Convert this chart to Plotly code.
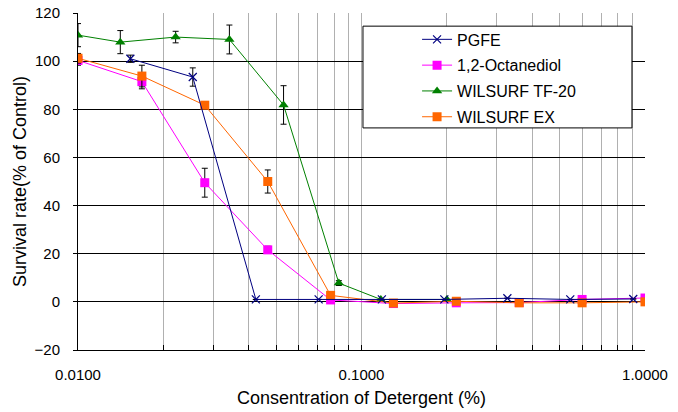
import plotly.graph_objects as go

# ---- data ----
pgfe_x = [0.0153, 0.0254, 0.0424, 0.0706, 0.118, 0.196, 0.327, 0.545, 0.909]
pgfe_y = [101, 93.4, 1, 1, 1, 1, 1.5, 1, 1.2]
pgfe_e = [1.5, 3.8, 0, 0, 0, 0, 0, 0, 0]

oct_x = [0.01, 0.0168, 0.028, 0.0467, 0.0778, 0.1296, 0.216, 0.36, 0.6, 1.0]
oct_y = [100.3, 91.5, 49.5, 21.6, 0.8, -0.7, -0.4, -0.3, 1, 1.6]
oct_e = [2, 3, 6, 1.5, 0, 0, 0, 0, 0, 0]

tf_x = [0.01, 0.0141, 0.0221, 0.0342, 0.0531, 0.0832, 0.117, 0.2]
tf_y = [110.8, 107.9, 110, 109, 81.8, 7.8, 1, 1]
tf_e = [4.8, 4.8, 2.4, 6, 8, 1, 0, 0]

ex_x = [0.01, 0.0168, 0.028, 0.0467, 0.0778, 0.1296, 0.216, 0.36, 0.6, 1.0]
ex_y = [101.2, 93.8, 81.7, 50, 2.7, -0.5, 0.25, -0.4, -0.4, 0]
ex_e = [2, 4.5, 1, 4.8, 0, 0, 0, 0, 0, 0]

x_ticks = [0.01, 0.1, 1.0]
x_tick_text = ["0.0100", "0.1000", "1.0000"]
minor_vals = [d * m for d in (0.01, 0.1) for m in range(2, 10)] + [0.1, 1.0]

FONT = "Liberation Sans"

def err(arr):
    return dict(type="data", array=arr, visible=True, color="black", thickness=1, width=3)

fig = go.Figure()
fig.add_trace(go.Scatter(x=tf_x, y=tf_y, name="WILSURF TF-20", mode="lines+markers",
                         line=dict(color="#008000", width=1),
                         marker=dict(symbol="triangle-up", size=9, color="#008000"),
                         error_y=err(tf_e), legendrank=3, legendgroup="c"))
fig.add_trace(go.Scatter(x=oct_x, y=oct_y, name="1,2-Octanediol", mode="lines+markers",
                         line=dict(color="#FF00FF", width=1),
                         marker=dict(symbol="square", size=9, color="#FF00FF"),
                         error_y=err(oct_e), legendrank=2, legendgroup="b"))
fig.add_trace(go.Scatter(x=ex_x, y=ex_y, name="WILSURF EX", mode="lines+markers",
                         line=dict(color="#FF6600", width=1),
                         marker=dict(symbol="square", size=9, color="#FF6600"),
                         error_y=err(ex_e), legendrank=4, legendgroup="d"))
fig.add_trace(go.Scatter(x=pgfe_x, y=pgfe_y, name="PGFE", mode="lines+markers",
                         line=dict(color="#000080", width=1),
                         marker=dict(symbol="x-thin", size=8, line=dict(color="#000080", width=1.2)),
                         error_y=err(pgfe_e), legendrank=1, legendgroup="a"))

# legend frame
fig.add_shape(type="rect", xref="paper", yref="paper",
              x0=0.5026, x1=0.977, y0=0.659, y1=0.961,
              line=dict(color="black", width=1), fillcolor="white", layer="above")

fig.update_layout(
    width=678, height=412,
    margin=dict(l=78, r=33, t=13, b=62),
    paper_bgcolor="white", plot_bgcolor="white",
    font=dict(family=FONT, size=15, color="black"),
    legend=dict(x=0.598, y=0.972, xanchor="left", yanchor="top",
                bgcolor="rgba(0,0,0,0)", borderwidth=0,
                font=dict(size=16), tracegroupgap=2),
    xaxis=dict(type="log", range=[-2, 0], tickvals=x_ticks, ticktext=x_tick_text,
               automargin=False,
               showline=True, linecolor="black", linewidth=1,
               showgrid=True, gridcolor="#b0b0b0", gridwidth=1,
               ticks="inside", ticklen=5, tickcolor="black",
               minor=dict(tickvals=minor_vals, showgrid=True, gridcolor="#b0b0b0",
                          ticks="inside", ticklen=5, tickcolor="black"),
               zeroline=False, ticklabelstandoff=11,
               title=dict(text="Consentration of Detergent (%)", font=dict(size=18), standoff=9),
               tickfont=dict(size=15)),
    yaxis=dict(range=[-20, 120], dtick=20, showline=True, linecolor="black", linewidth=1,
               automargin=False,
               showgrid=True, gridcolor="black", gridwidth=1, zeroline=False,
               ticks="outside", ticklen=4, tickcolor="black", ticklabelstandoff=10,
               title=dict(text="Survival rate(% of Control)", font=dict(size=18), standoff=3),
               tickfont=dict(size=15)),
)

fig.write_html("out.html", config={"displayModeBar": False},
               post_script="document.body.style.margin='0';")
